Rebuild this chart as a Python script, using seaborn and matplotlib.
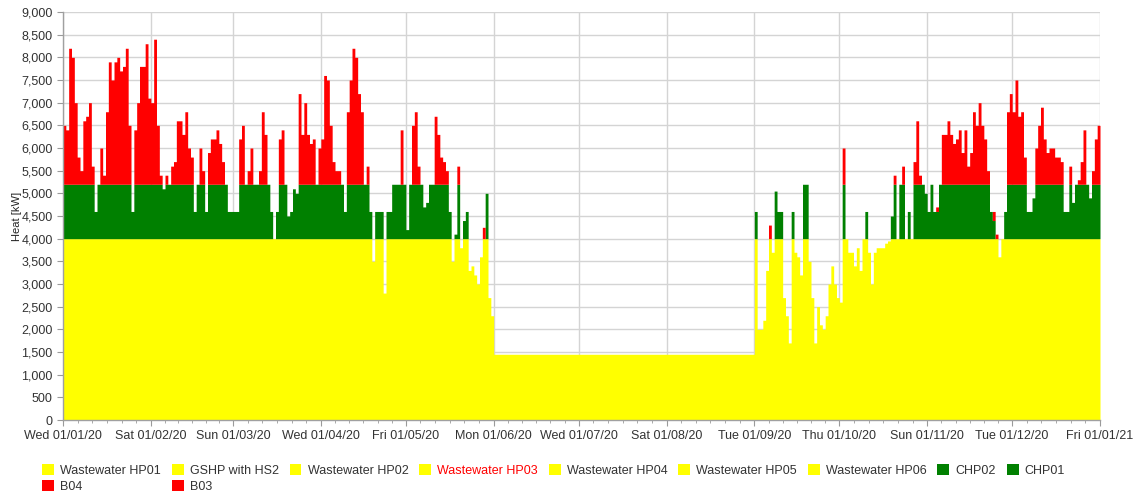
import numpy as np
import pandas as pd
import matplotlib
matplotlib.use("Agg")
import matplotlib.pyplot as plt
import matplotlib.patches as mpatches
from matplotlib.ticker import FuncFormatter, FixedLocator
import seaborn as sns

sns.set_style("white")
plt.rcParams['font.family'] = ['Liberation Sans', 'DejaVu Sans']

# ---------------- data (daily values, kW) ----------------
# Heat pumps (all yellow series combined)
hp_jan_mar = [4000] * 91
hp_apr = [4000] * 18 + [3500] + [4000] * 3 + [2800] + [4000] * 7
hp_may = [4000] * 16 + [3500, 4000, 4000, 3800, 4000, 4000, 3300,
                         3400, 3200, 3000, 3600, 4000, 4000, 2700, 2300]
hp_summer = [1450] * 92
hp_sep = [4000, 2000, 2000, 2200, 3300, 4000, 3700, 4000, 4000, 4000,
          2700, 2300, 1700, 4000, 3700, 3600, 3200, 4000, 4000, 3500,
          2700, 1700, 2500, 2100, 2000, 2300, 3000, 3400, 3000, 2700]
hp_oct = [2600, 4000, 4000, 3700, 3700, 3400, 3800, 3300, 4000, 4000,
          3700, 3000, 3700, 3800, 3800, 3800, 3900, 3950, 4000, 4000,
          4000, 4000, 4000, 4000, 4000, 4000, 4000, 4000, 4000, 4000, 4000]
hp_nov = [4000] * 25 + [3600] + [4000] * 4
hp_dec = [4000] * 31

# CHP02 + CHP01 (green)
chp_jan = [1200] * 11 + [600] + [1200] * 12 + [600] + [1200] * 6
chp_feb = [1200, 1200, 1200, 1200, 1100, 1200, 1200, 1200, 1200, 1200,
           1200, 1200, 1200, 1200, 1200, 600, 1200, 1200, 1200, 600,
           1200, 1200, 1200, 1200, 1200, 1200, 1200, 600, 600]
chp_mar = [600, 600, 1200, 1200, 1200, 1200, 1200, 1200, 1200, 1200,
           1200, 1200, 1200, 600, 0, 600, 1200, 1200, 1200, 500,
           600, 1100, 1000, 1200, 1200, 1200, 1200, 1200, 1200, 1200, 1200]
chp_apr = [1200] * 8 + [600] + [1200] * 8 + [600, 0, 600, 600, 600, 0, 600, 600] + [1200] * 5
chp_may = [200, 1200, 1200, 1200, 1200, 1200, 700, 800, 1200, 1200,
           1200, 1200, 1200, 1200, 1200, 600, 0, 100, 1200, 0,
           400, 600, 0, 0, 0, 0, 0, 0, 1000, 0, 0]
chp_summer = [0] * 92
chp_sep = [600, 0, 0, 0, 0, 0, 0, 1050, 600, 600,
           0, 0, 0, 600, 0, 0, 0, 1200, 1200, 0,
           0, 0, 0, 0, 0, 0, 0, 0, 0, 0]
chp_oct = [0, 1200, 0, 0, 0, 0, 0, 0, 0, 600,
           0, 0, 0, 0, 0, 0, 0, 0, 500, 1200,
           0, 1200, 1200, 0, 600, 0, 1200, 1200, 1200, 1200, 1000]
chp_nov = [600, 1200, 600, 600, 1200] + [1200] * 17 + [600, 400, 0, 0, 0, 600, 1200, 1200]
chp_dec = [1200] * 5 + [600, 600, 900] + [1200] * 10 + [600, 600, 1200, 800] + [1200] * 5 + [900, 1200, 1200, 1200]

# B04 + B03 (red)
boil_jan = [1300, 1200, 3000, 2800, 1800, 600, 300, 1400, 1500, 1800,
            400, 0, 0, 800, 200, 1600, 2700, 2300, 2700, 2800,
            2500, 2600, 3000, 1300, 0, 1200, 1800, 2600, 2600, 3100, 1900]
boil_feb = [1800, 3200, 1300, 200, 0, 200, 0, 400, 500, 1400,
            1400, 1100, 1600, 800, 600, 0, 0, 800, 300, 0,
            700, 1000, 1000, 1200, 900, 500, 0, 0, 0]
boil_mar = [0, 0, 1000, 1300, 0, 300, 800, 0, 0, 300,
            1600, 1100, 0, 0, 0, 0, 1000, 1200, 0, 0,
            0, 0, 0, 2000, 1100, 1800, 1100, 900, 1000, 0, 800]
boil_apr = [1000, 2400, 2300, 1300, 500, 300, 300, 0, 0,
            1600, 2300, 3000, 2800, 2000, 1600, 0, 400,
            0, 0, 0, 0, 0, 0, 0, 0, 0, 0, 0, 1200, 0]
boil_may = [0, 0, 1300, 1600, 400, 0, 0, 0, 0, 0,
            1500, 1100, 600, 500, 300, 0, 0, 0, 400, 0,
            0, 0, 0, 0, 0, 0, 0, 250, 0, 0, 0]
boil_summer = [0] * 92
boil_sep = [0, 0, 0, 0, 0, 300, 0, 0, 0, 0] + [0] * 20
boil_oct = [0, 800, 0, 0, 0, 0, 0, 0, 0, 0,
            0, 0, 0, 0, 0, 0, 0, 0, 0, 200,
            0, 0, 400, 0, 0, 0, 500, 1400, 200, 0, 0]
boil_nov = [0, 0, 0, 100, 0,
            1100, 1100, 1400, 1100, 900, 1000, 1200, 700, 1200, 400,
            700, 1600, 1300, 1800, 1300, 1000, 300,
            0, 200, 100, 0, 0, 0, 1600, 2000]
boil_dec = [1600, 2300, 1500, 1600, 600, 0, 0, 0,
            800, 1300, 1700, 1000, 700, 800, 800, 600, 600, 500,
            0, 0, 400, 0, 0, 100, 500, 1200, 0, 0, 300, 1000, 1300]

heat_pumps_kw = hp_jan_mar + hp_apr + hp_may + hp_summer + hp_sep + hp_oct + hp_nov + hp_dec
chp_kw = chp_jan + chp_feb + chp_mar + chp_apr + chp_may + chp_summer + chp_sep + chp_oct + chp_nov + chp_dec
boilers_kw = boil_jan + boil_feb + boil_mar + boil_apr + boil_may + boil_summer + boil_sep + boil_oct + boil_nov + boil_dec

tick_labels = ["Wed 01/01/20", "Sat 01/02/20", "Sun 01/03/20", "Wed 01/04/20",
               "Fri 01/05/20", "Mon 01/06/20", "Wed 01/07/20", "Sat 01/08/20",
               "Tue 01/09/20", "Thu 01/10/20", "Sun 01/11/20", "Tue 01/12/20",
               "Fri 01/01/21"]

legend_labels = ["Wastewater HP01", "GSHP with HS2", "Wastewater HP02", "Wastewater HP03",
                 "Wastewater HP04", "Wastewater HP05", "Wastewater HP06", "CHP02", "CHP01",
                 "B04", "B03"]
legend_colors = ["#ffff00"] * 7 + ["#008000"] * 2 + ["#ff0000"] * 2

# ---------------- build frame ----------------
n_days = len(heat_pumps_kw)
start = pd.Timestamp("2020-01-01")
days = np.arange(n_days)
df = pd.DataFrame({
    "day": np.tile(days + 0.5, 3),
    "kw": np.concatenate([heat_pumps_kw, chp_kw, boilers_kw]).astype(float),
    "layer": np.repeat(["Heat pumps", "CHP", "Boilers"], n_days),
})

month_pos = (pd.date_range("2020-01-01", "2021-01-01", freq="MS") - start).days.values

# ---------------- figure ----------------
W, H = 1145, 498
fig = plt.figure(figsize=(W / 100, H / 100), dpi=100)
ax = fig.add_axes([63 / W, 1 - 420 / H, (1100 - 63) / W, (420 - 12) / H])
ax.set_axisbelow(True)

sns.histplot(data=df, x="day", weights="kw", hue="layer",
             hue_order=["Boilers", "CHP", "Heat pumps"],
             multiple="stack", binwidth=1, binrange=(0, n_days),
             element="step", fill=True, linewidth=0, alpha=1,
             palette={"Heat pumps": "#ffff00", "CHP": "#008000", "Boilers": "#ff0000"},
             legend=False, ax=ax)

ax.set_xlim(0, n_days)
ax.set_ylim(0, 9000)
ax.set_yticks(np.arange(0, 9001, 500))
ax.yaxis.set_major_formatter(FuncFormatter(lambda v, p: f"{v:,.0f}"))
ax.set_xticks(month_pos)
ax.set_xticklabels(tick_labels)
minor = []
for a, b in zip(month_pos[:-1], month_pos[1:]):
    minor.extend(np.linspace(a, b, 7)[1:-1])
ax.xaxis.set_minor_locator(FixedLocator(minor))

ax.grid(True, which="major", color="#d4d4d4", linewidth=1)
ax.tick_params(axis="both", which="major", labelsize=9, labelcolor="#333333",
               color="#9a9a9a", length=4, direction="out", left=True, bottom=True)
ax.tick_params(axis="x", which="minor", color="#9a9a9a", length=2.5, bottom=True)
ax.tick_params(axis="x", pad=3)
for s in ["top", "right"]:
    ax.spines[s].set_visible(False)
for s in ["left", "bottom"]:
    ax.spines[s].set_color("#a0a0a0")
    ax.spines[s].set_linewidth(1)

ax.set_xlabel("")
ax.set_ylabel("Heat [kW]", fontsize=8, color="#222222")
ax.yaxis.set_label_coords(-0.040, 0.5)

# legend, column-major order so rows read HP01..CHP01 / B04, B03
handles = [mpatches.Patch(facecolor=c, edgecolor="none") for c in legend_colors]
order = [0, 9, 1, 10, 2, 3, 4, 5, 6, 7, 8]
leg = fig.legend([handles[i] for i in order], [legend_labels[i] for i in order],
                 ncol=9, loc="upper left", bbox_to_anchor=(42 / W, 1 - 464 / H),
                 frameon=False, fontsize=9, handlelength=0.95, handleheight=0.95,
                 handletextpad=0.5, columnspacing=0.86, labelspacing=0.3,
                 borderaxespad=0, borderpad=0)
for t in leg.get_texts():
    t.set_color("#333333")
    if t.get_text() == "Wastewater HP03":
        t.set_color("#ff0000")

fig.savefig("out.png", dpi=100)
